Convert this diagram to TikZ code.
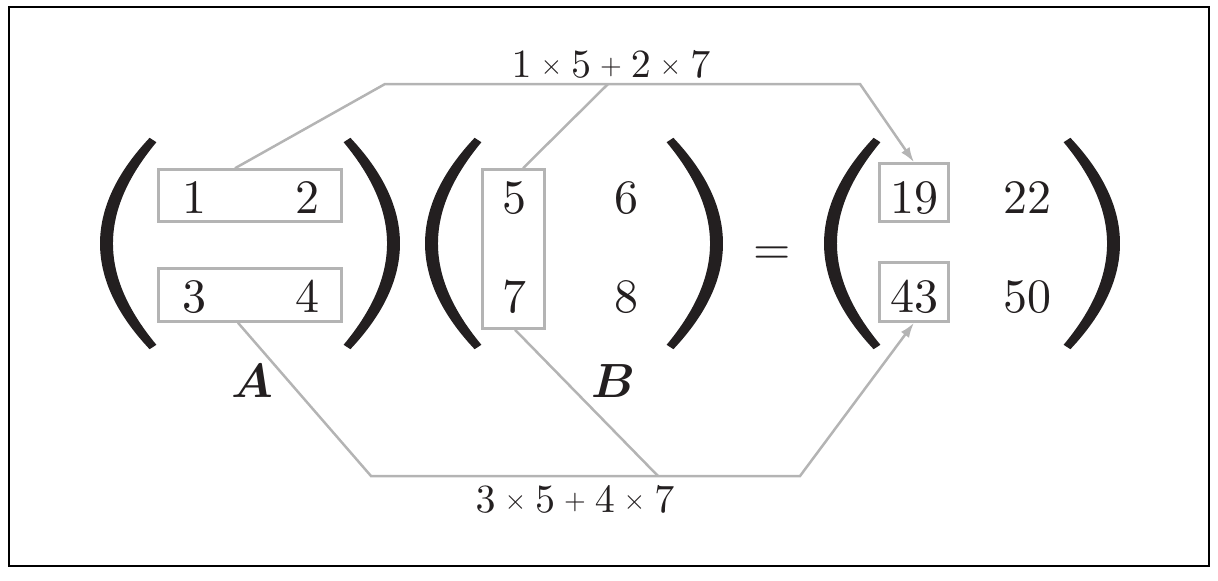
\documentclass[tikz,border=0pt]{standalone}
\usepackage{bm}
\usepackage{graphicx}
\usetikzlibrary{arrows.meta}
\DeclareFontShape{OT1}{cmr}{m}{n}{<->cmr10}{}
\DeclareFontShape{OML}{cmm}{m}{it}{<->cmmi10}{}
\DeclareFontShape{OML}{cmm}{b}{it}{<->cmmib10}{}
\DeclareFontShape{OMS}{cmsy}{m}{n}{<->cmsy10}{}
\DeclareFontShape{OMS}{cmsy}{b}{n}{<->cmbsy10}{}
\definecolor{ink}{RGB}{35,31,32}
\definecolor{linkgray}{RGB}{180,180,180}
\newcommand{\stimes}{\mathbin{\vcenter{\hbox{\scalebox{0.7}{$\times$}}}}}
\newcommand{\splus}{\mathbin{\vcenter{\hbox{\scalebox{0.7}{$+$}}}}}
\begin{document}
\begin{tikzpicture}[x=0.5pt, y=-0.5pt,
	entry/.style={anchor=base, inner sep=0pt, text=ink, font=\fontsize{24}{28}\selectfont},
	pickbox/.style={draw=linkgray, line width=1.5pt, inner sep=0pt},
	link/.style={draw=linkgray, line width=1.25pt},
	sumlabel/.style={anchor=base, inner sep=0pt, text=ink, font=\fontsize{20}{24}\selectfont}]

		\useasboundingbox (0,0) rectangle (1218,580);
		\draw[line width=0.75pt] (9,7) rectangle (1209,566);

		\foreach \x/\dir in {153/1,347/-1,478/1,670/-1,877/1,1067/-1}
		\fill[ink, shift={(\x,140)}, xscale=\dir] (-3.4,-2.2) .. controls (-69.5,68) and (-69.5,139) .. (-3.4,209.2) -- (3.4,204.8) .. controls (-54.5,135) and (-54.5,72) .. (3.4,2.2) -- cycle;

		\node[pickbox, minimum width=91.25pt, minimum height=25.75pt] (arow1) at (250,195.5) {};
		\node[pickbox, minimum width=91.25pt, minimum height=26.25pt] (arow2) at (250,295) {};
		\node[pickbox, minimum width=30.75pt, minimum height=79.25pt] (bcol) at (513.5,249) {};
		\node[pickbox, minimum width=34.25pt, minimum height=28.75pt] (cbox1) at (914,192.5) {};
		\node[pickbox, minimum width=34.25pt, minimum height=29.25pt] (cbox2) at (914,292) {};

		\foreach \name/\x/\y/\val in {a11/194/213/1,a12/307/213/2,a21/194/312/3,a22/307/312/4,b11/514/213/5,b12/626/213/6,b21/514/312/7,b22/626/312/8,c11/914/213/19,c12/1027/213/22,c21/914/312/43,c22/1027/312/50}
		\node[entry] (\name) at (\x,\y) {$\val$};

		\node[entry] (namea) at (252,397) {$\bm{A}$};
		\node[entry] (nameb) at (613,397) {$\bm{B}$};
		\node[entry] (equals) at (772,264) {$=$};

		\coordinate (topleft) at (385,84);
		\coordinate (topmid) at (608,84);
		\coordinate (topright) at (860,84);
		\coordinate (botleft) at (371,476);
		\coordinate (botmid) at (658,476);
		\coordinate (botright) at (800,476);

		\draw[link, -{Latex[length=7.5pt, width=5pt]}] ([xshift=-7.5pt]arow1.north) -- (topleft) -- (topright) -- (cbox1.north);
		\draw[link] ([xshift=4.75pt]bcol.north) -- (topmid);
		\draw[link, -{Latex[length=7.5pt, width=5pt]}] ([xshift=-6pt]arow2.south) -- (botleft) -- (botright) -- (cbox2.south);
		\draw[link] ([xshift=0.75pt]bcol.south) -- (botmid);

		\node[sumlabel] (topsum) at (611,77) {$1\stimes5\splus2\stimes7$};
		\node[sumlabel] (botsum) at (575,512) {$3\stimes5\splus4\stimes7$};

		\end{tikzpicture}
\end{document}
